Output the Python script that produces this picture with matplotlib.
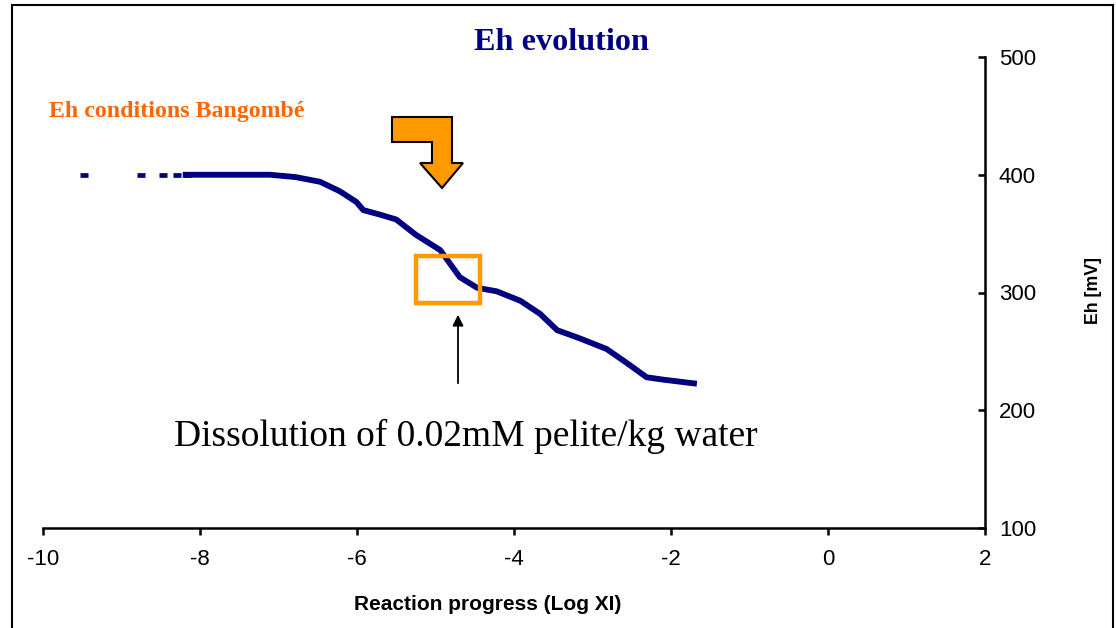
#!usr/bin/env python
#-*- coding:utf-8 -*-

# Eh evolution vs reaction progress (Bangombe)

import matplotlib
matplotlib.use('Agg')
import matplotlib.pyplot as plt
from matplotlib.patches import Polygon, Rectangle

plt.rcParams['axes.unicode_minus'] = False

# sparse first steps of the reaction path (Log XI, Eh mV)
sparse_x = [-9.48, -8.75, -8.47, -8.29, -8.17]
sparse_y = [400, 400, 400, 400, 400]

# dense part of the path
log_xi = [-8.22, -7.11, -6.78, -6.47, -6.22, -6.01, -5.92, -5.70, -5.50,
		  -5.25, -4.94, -4.69, -4.47, -4.22, -3.92, -3.67, -3.45, -3.16,
		  -2.82, -2.56, -2.31, -2.10, -1.67]
eh = [400, 400, 398, 394, 386, 377, 370, 366, 362,
	  349, 336, 313, 304, 301, 293, 282, 268, 261,
	  252, 240, 228, 226, 222.5]

x_ticks = [-10, -8, -6, -4, -2, 0, 2]
y_ticks = [100, 200, 300, 400, 500]

navy = '#000080'
W, H = 1116, 628

def px(x, y):
	# pixel (from top-left) -> figure fraction
	return x / W, 1 - y / H

def drawEh():
	fig = plt.figure(figsize=(W / 100, H / 100), dpi=100)
	ax = fig.add_axes([43 / W, 1 - 528 / H, (985 - 43) / W, (528 - 57) / H])

	ax.plot(log_xi, eh, color=navy, lw=4.2, solid_capstyle='butt',
			solid_joinstyle='round')
	ax.plot(sparse_x, sparse_y, ls='none', marker='_', ms=6, mew=3.4, color=navy)

	ax.set_xlim(-10, 2)
	ax.set_ylim(100, 500)
	ax.set_xticks(x_ticks)
	ax.set_yticks(y_ticks)
	for s in ['top', 'left']:
		ax.spines[s].set_visible(False)
	ax.spines['bottom'].set_linewidth(1.8)
	ax.spines['right'].set_linewidth(1.8)
	ax.yaxis.tick_right()
	ax.yaxis.set_label_position('right')
	ax.tick_params(axis='x', direction='out', length=5, width=1.8, pad=10,
				   labelsize=16)
	ax.tick_params(axis='y', direction='in', length=5, width=1.8, pad=10,
				   labelsize=16)
	for lab in ax.get_xticklabels() + ax.get_yticklabels():
		lab.set_family('Liberation Sans')

	ax.set_xlabel('Reaction progress (Log XI)', family='Liberation Sans',
				  fontweight='bold', fontsize=15)
	ax.xaxis.set_label_coords((488 - 43) / 942, -(604 - 528) / 471)
	ax.xaxis.label.set_va('center')
	ax.set_ylabel('Eh [mV]', family='Liberation Sans', fontweight='bold',
				  fontsize=12.8, rotation=90)
	ax.yaxis.set_label_coords((1093 - 43) / 942, (528 - 291) / 471)
	ax.yaxis.label.set_va('center')

	fig.text(*px(562, 43), 'Eh evolution', family='Liberation Serif',
			 fontweight='bold', fontsize=23.2, color=navy, ha='center', va='center')
	fig.text(*px(49, 111), 'Eh conditions Bangombé', family='Liberation Serif',
			 fontweight='bold', fontsize=17.2, color='#FF6600', ha='left', va='center')
	fig.text(*px(466, 436), 'Dissolution of 0.02mM pelite/kg water',
			 family='Liberation Serif', fontsize=27, color='black',
			 ha='center', va='center')

	# arrow pointing to the box
	ax.annotate('', xy=px(458, 312), xytext=px(458, 386),
				xycoords='figure fraction', textcoords='figure fraction',
				arrowprops=dict(arrowstyle='-|>', color='black', lw=1.3,
								mutation_scale=16))
	# orange box
	x0, y0 = px(416, 303)
	x1, y1 = px(480, 256)
	fig.patches.append(Rectangle((x0, y0), x1 - x0, y1 - y0, fill=False,
								 edgecolor='#FF9900', lw=3.2,
								 transform=fig.transFigure, figure=fig))
	# bent orange arrow
	pts = [(392, 117), (452, 117), (452, 163), (463, 163), (442, 188),
		   (420, 163), (432, 163), (432, 142), (392, 142)]
	fig.patches.append(Polygon([px(a, b) for a, b in pts], closed=True,
							   facecolor='#FF9900', edgecolor='black', lw=1.5,
							   transform=fig.transFigure, figure=fig))
	# outer frame
	fx0, fy0 = px(12, 660)
	fx1, fy1 = px(1113, 5)
	fig.patches.append(Rectangle((fx0, fy0), fx1 - fx0, fy1 - fy0, fill=False,
								 edgecolor='black', lw=1.5,
								 transform=fig.transFigure, figure=fig, clip_on=False))

	plt.savefig('out.png', dpi=100)

if __name__ == '__main__':
	drawEh()
